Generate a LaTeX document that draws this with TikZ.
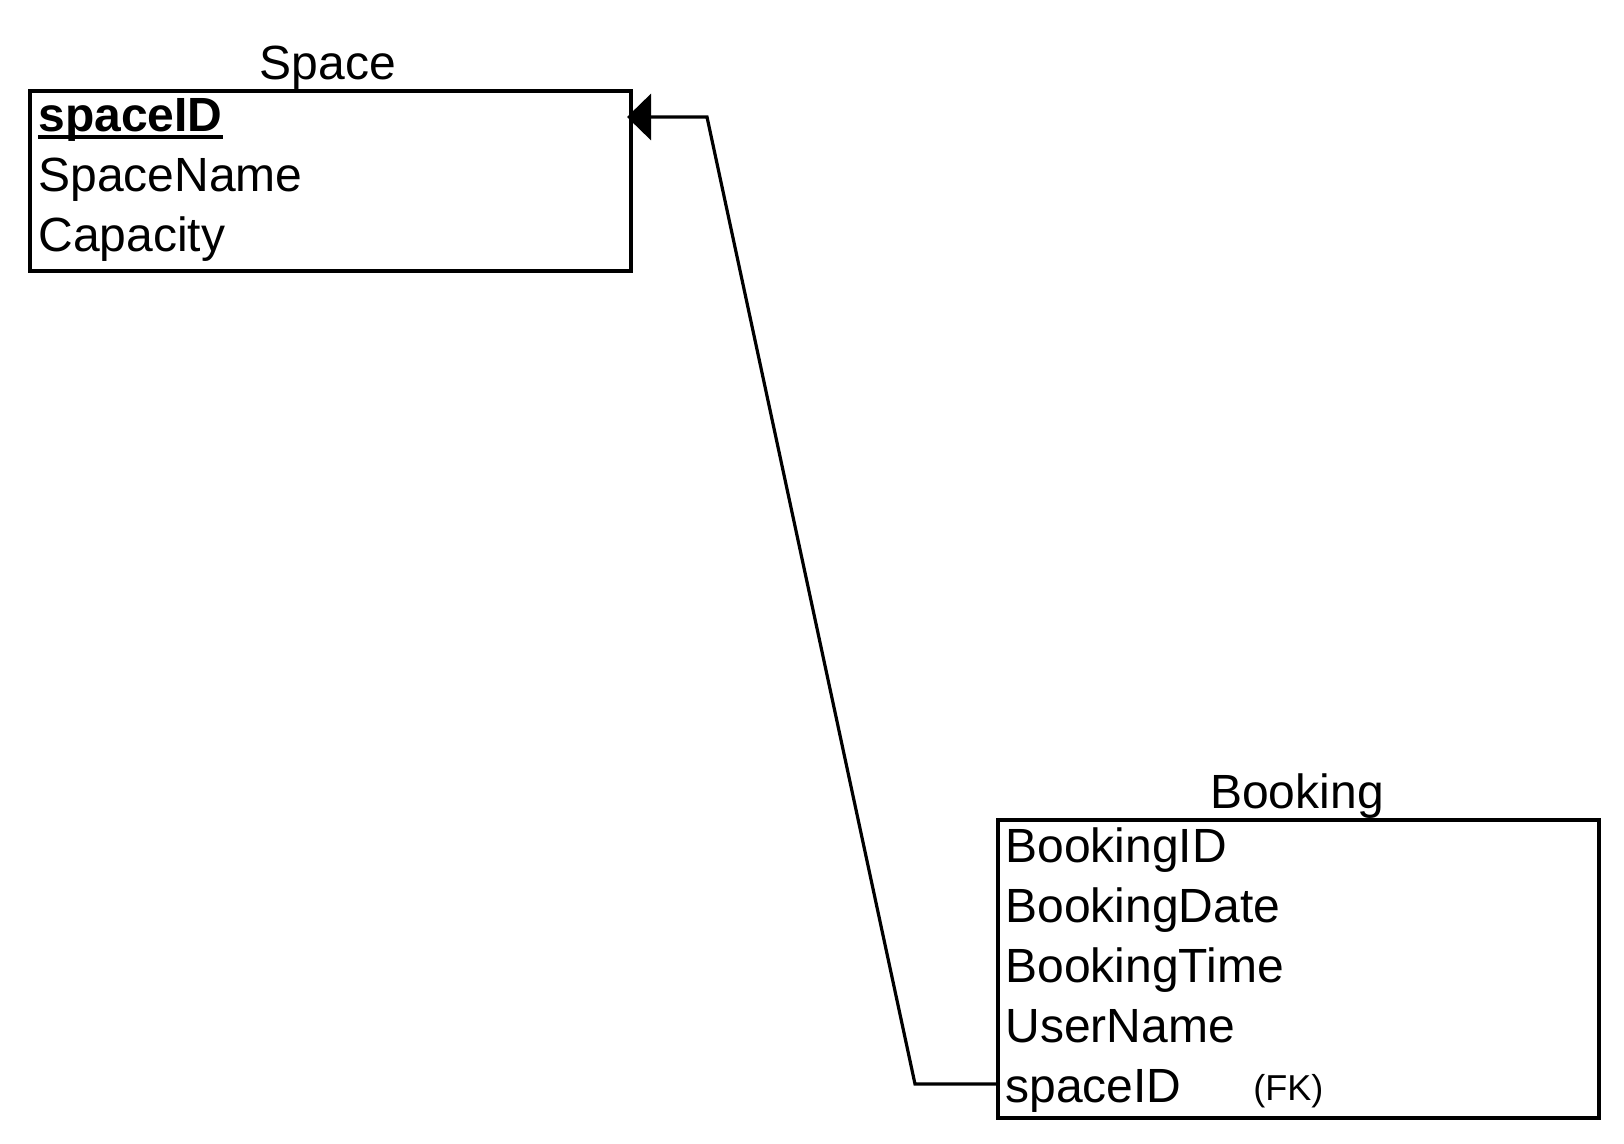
\documentclass[tikz,border=0pt]{standalone}
\usepackage{fontspec}
\setmainfont{Liberation Sans}
\usetikzlibrary{arrows.meta}
\begin{document}
\begin{tikzpicture}[x=0.5pt,y=-0.5pt,
  tbl/.style={draw, line width=1.9pt, inner sep=0pt, anchor=north west},
  attr/.style={inner sep=0pt, anchor=base west, font=\fontsize{24pt}{28pt}\selectfont},
  ttl/.style={inner sep=0pt, anchor=base, font=\fontsize{24pt}{28pt}\selectfont},
  small/.style={inner sep=0pt, anchor=base west, font=\fontsize{18pt}{21pt}\selectfont},
  conn/.style={line width=1.6pt}]
\useasboundingbox (0,0) rectangle (1624,1144);
% Space table
\node[tbl, minimum width=300.5pt, minimum height=90pt] (space) at (28,89) {};
\node[ttl] (spacettl) at (328,80) {Space};
\node[attr, font=\fontsize{24pt}{28pt}\selectfont\bfseries] (sid) at (38,132) {spaceID};
\node[attr] (sname) at (38,192) {SpaceName};
\node[attr] (scap) at (38,252) {Capacity};
\draw[line width=1.6pt] ([yshift=-2.5pt]sid.base west) -- ([yshift=-2.5pt]sid.base east);
% Booking table
\node[tbl, minimum width=300.5pt, minimum height=149pt] (booking) at (996,818) {};
\node[ttl] (bookingttl) at (1297,808) {Booking};
\node[attr] (bid) at (1005,862) {BookingID};
\node[attr] (bdate) at (1005,922) {BookingDate};
\node[attr] (btime) at (1005,982) {BookingTime};
\node[attr] (buser) at (1005,1042) {UserName};
\node[attr] (bsid) at (1005,1102) {spaceID};
\node[small] (fk) at (1253,1100) {(FK)};
% connector
\coordinate (a) at (996,1084);
\coordinate (b) at (915,1084);
\coordinate (c) at (707,117);
\coordinate (d) at (627,117);
\draw[conn, -{Triangle[length=12pt, width=23pt]}] (a) -- (b) -- (c) -- (d);
\end{tikzpicture}
\end{document}
